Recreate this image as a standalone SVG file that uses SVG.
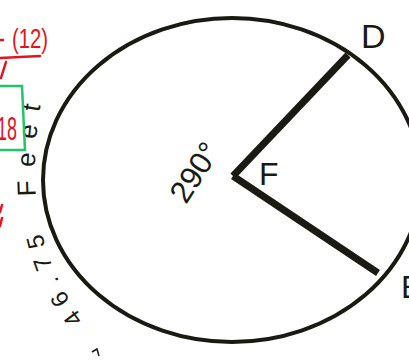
<svg xmlns="http://www.w3.org/2000/svg" width="409" height="360" viewBox="0 0 409 360">
<style>
.ink{fill:#1a1a12;font-family:"Liberation Sans","DejaVu Sans",sans-serif}
.red{fill:#e3141d;font-family:"Liberation Sans","DejaVu Sans",sans-serif}
.rs{stroke:#e3141d;stroke-width:2.5;fill:none;stroke-linecap:round}
</style>
<defs>
<path id="arcText" d="M89,325 Q14,240 43,92"/>
</defs>
<rect width="409" height="360" fill="#ffffff"/>
<g id="circle">
<ellipse cx="232" cy="180" rx="189" ry="162" fill="none" stroke="#1a1a12" stroke-width="4"/>
</g>
<g id="connectors">
<line x1="233" y1="176" x2="348" y2="55" stroke="#1a1a12" stroke-width="7" stroke-linecap="butt"/>
<line x1="233" y1="176" x2="378" y2="273" stroke="#1a1a12" stroke-width="7" stroke-linecap="butt"/>
</g>
<g id="labels">
<text class="ink" x="361" y="48" font-size="34">D</text>
<text class="ink" x="259" y="185" font-size="32">F</text>
<text class="ink" x="401" y="298" font-size="32">E</text>
<text class="ink" font-size="31" transform="translate(186,205) rotate(-57)">290°</text>
<text class="ink" font-size="24" letter-spacing="9"><textPath href="#arcText" startOffset="8">46.75</textPath></text>
<text class="ink" font-size="26" letter-spacing="13"><textPath href="#arcText" startOffset="142">Feet</textPath></text>
</g>
<g id="annotations">
<text class="red" x="12" y="48" font-size="28" textLength="36" lengthAdjust="spacingAndGlyphs">(12)</text>
<path class="rs" d="M0,58 L40,56"/>
<path class="rs" d="M0,40 L3,40"/>
<path class="rs" d="M6,62 L1,78"/>
<path d="M-2,86 L22,86 L25,150 L-2,150" fill="none" stroke="#22c46a" stroke-width="2.5"/>
<text class="red" x="-3" y="140" font-size="34" textLength="20" lengthAdjust="spacingAndGlyphs">18</text>
<path class="rs" d="M2,205 L0,212 M2,218 L0,226"/>
<path d="M92,352 L97,349 L99,356" fill="none" stroke="#1a1a12" stroke-width="1.5"/>
</g>
</svg>
